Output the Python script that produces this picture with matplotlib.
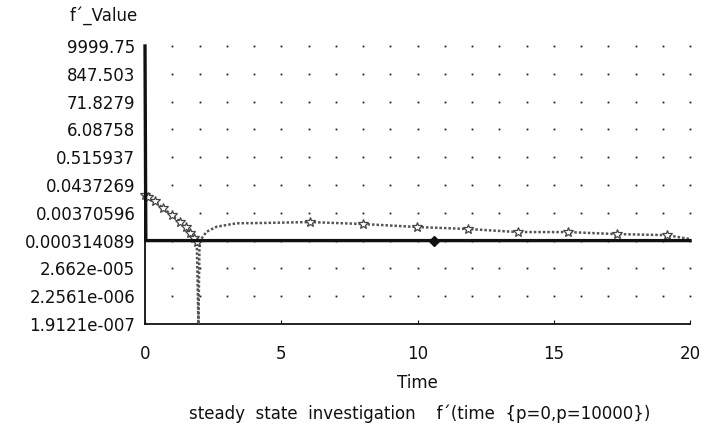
import matplotlib
matplotlib.use("Agg")
import matplotlib.pyplot as plt
import numpy as np

# ---- data ----
ytick_vals = [1.9121e-07, 2.2561e-06, 2.662e-05, 0.000314089, 0.00370596,
              0.0437269, 0.515937, 6.08758, 71.8279, 847.503, 9999.75]
ytick_labels = ["1.9121e-007", "2.2561e-006", "2.662e-005", "0.000314089",
                "0.00370596", "0.0437269", "0.515937", "6.08758", "71.8279",
                "847.503", "9999.75"]
xtick_vals = [0, 5, 10, 15, 20]
grid_t = list(range(1, 21))

# series p = 10000 (solid)
t1 = [0.0, 0.03, 10.6, 20.0]
v1 = [9999.75, 0.000314089, 0.000314089, 0.000314089]

# series p = 0 (dotted, star markers)
t2 = [0.0, 0.1, 0.35, 0.67, 1.0, 1.28, 1.5, 1.65, 1.8, 1.9, 1.96, 2.0, 2.08,
      2.26, 2.63, 3.36, 4.33, 6.06, 8.0, 9.98, 11.85, 13.68, 15.52, 17.32,
      19.16, 20.0]
v2 = [0.018, 0.0155, 0.0105, 0.0055, 0.003, 0.00168, 0.00105, 0.0006,
      0.0004, 0.00028, 1.9121e-07, 0.00026, 0.000385, 0.00069, 0.00108,
      0.00146, 0.0015, 0.00163, 0.00137, 0.00105, 0.00088, 0.00067, 0.00067,
      0.00056, 0.00051, 0.00036]
star_idx = [0, 1, 2, 3, 4, 5, 6, 7, 8, 9, 17, 18, 19, 20, 21, 22, 23, 24]

plt.rcParams['font.family'] = ['DejaVu Sans']
fig = plt.figure(figsize=(7.19, 4.30), dpi=100)
ax = fig.add_axes([145/719, 1-324/430, 545/719, 278/430])
ax.set_yscale('log')
ax.set_xlim(0, 20)
ax.set_ylim(ytick_vals[0], ytick_vals[-1])

# dotted grid
gx, gy = np.meshgrid(grid_t, ytick_vals[1:])
ax.plot(gx.ravel(), gy.ravel(), linestyle='none', marker='s', markersize=1.3,
        mew=0, color='#222222', clip_on=False, zorder=1)

ax.plot(t2, v2, color='#555555', lw=1.8, linestyle=(0, (1, 0.8)),
        marker='*', markevery=star_idx, markersize=7, mfc='white',
        mec='#444444', mew=0.9, zorder=3, clip_on=False)
ax.plot(t1, v1, color='#111111', lw=2.4, marker='D', markevery=[2],
        markersize=5, zorder=4, clip_on=False)

for s in ['top', 'right']:
    ax.spines[s].set_visible(False)
for s in ['left', 'bottom']:
    ax.spines[s].set_linewidth(1.3)
    ax.spines[s].set_color('#111111')

ax.set_yticks(ytick_vals)
ax.set_yticklabels(ytick_labels)
ax.minorticks_off()
ax.set_xticks(xtick_vals)
ax.set_xticklabels([str(v) for v in xtick_vals])
ax.tick_params(axis='y', length=0, pad=7, labelsize=12, colors='#111111')
ax.tick_params(axis='x', direction='in', length=3, pad=15, labelsize=12,
               colors='#111111')
ax.set_xlabel("Time", fontsize=12, labelpad=8, color='#111111')

fig.text(138/719, 1-16/430, "f\u00b4_Value", ha='right', va='center',
         fontsize=12, color='#111111')
fig.text(420/719, 1-414/430,
         "steady  state  investigation    f\u00b4(time  {p=0,p=10000})",
         ha='center', va='center', fontsize=12, color='#111111')

fig.savefig("out.png", dpi=100)
